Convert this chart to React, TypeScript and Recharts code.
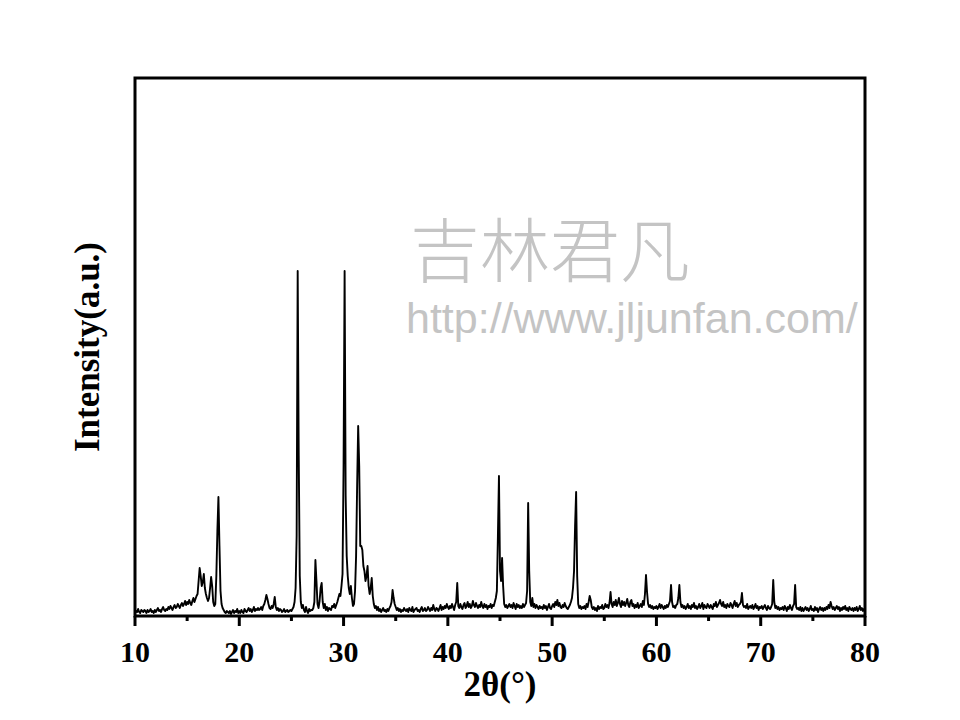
import React from "react";
import { LineChart, Line, XAxis, YAxis, ReferenceArea } from "recharts";

// XRD pattern, 2θ from 10° in steps of 0.1°, one row per degree.
// Intensity is in arbitrary units (read as height above the baseline).
const TWO_THETA_START = 10;
const TWO_THETA_STEP = 0.1;
const INTENSITY_ROWS: number[][] = [
  [3, 5, 4, 7, 4, 3, 6, 5, 4, 6], // 10
  [5, 3, 6, 4, 5, 7, 4, 5, 3, 6],
  [4, 6, 8, 5, 6, 4, 7, 9, 6, 5],
  [7, 6, 9, 7, 10, 8, 6, 9, 11, 8],
  [9, 12, 10, 8, 11, 13, 10, 12, 15, 11],
  [14, 12, 16, 13, 11, 15, 18, 14, 17, 20], // 15
  [22, 35, 48, 40, 30, 34, 42, 28, 22, 18],
  [15, 18, 28, 39, 30, 14, 10, 12, 40, 85],
  [119, 70, 25, 12, 8, 6, 4, 3, 5, 4],
  [3, 5, 2, 4, 6, 3, 5, 4, 7, 3],
  [5, 3, 6, 4, 3, 7, 5, 4, 6, 8], // 20
  [5, 7, 4, 6, 9, 5, 7, 6, 8, 6],
  [7, 9, 6, 10, 12, 16, 21, 17, 12, 8],
  [7, 10, 8, 12, 19, 9, 6, 8, 5, 7],
  [6, 4, 5, 7, 4, 5, 6, 4, 5, 6],
  [5, 7, 9, 14, 28, 80, 345, 160, 40, 14], // 25
  [8, 11, 6, 4, 9, 5, 3, 7, 5, 6],
  [6, 8, 14, 56, 35, 12, 8, 15, 28, 33],
  [14, 8, 12, 6, 9, 5, 8, 7, 6, 10],
  [9, 12, 8, 11, 14, 18, 22, 20, 30, 42],
  [150, 345, 120, 60, 40, 28, 22, 30, 18, 10], // 30
  [12, 25, 60, 130, 190, 150, 70, 70, 66, 50],
  [45, 35, 40, 50, 30, 22, 28, 38, 20, 12],
  [8, 10, 6, 9, 5, 7, 4, 6, 8, 5],
  [6, 4, 7, 5, 8, 10, 14, 26, 18, 12],
  [9, 6, 8, 5, 7, 4, 6, 5, 8, 6], // 35
  [5, 7, 4, 8, 6, 5, 9, 4, 6, 7],
  [8, 5, 6, 4, 7, 9, 5, 6, 8, 5],
  [6, 9, 7, 5, 8, 6, 11, 7, 5, 8],
  [7, 5, 8, 11, 6, 9, 7, 10, 8, 12],
  [9, 7, 10, 8, 12, 9, 6, 11, 14, 33], // 40
  [10, 8, 12, 9, 7, 11, 13, 8, 10, 14],
  [9, 12, 8, 10, 15, 11, 9, 13, 10, 8],
  [11, 9, 14, 10, 8, 12, 9, 11, 7, 10],
  [9, 12, 8, 11, 10, 14, 18, 25, 80, 140],
  [45, 35, 58, 30, 12, 9, 11, 8, 10, 12], // 45
  [9, 11, 8, 13, 10, 7, 12, 9, 11, 8],
  [10, 8, 12, 9, 11, 13, 25, 113, 45, 14],
  [10, 18, 9, 12, 8, 11, 9, 7, 10, 8],
  [9, 7, 11, 8, 10, 6, 9, 12, 8, 7],
  [10, 12, 9, 14, 11, 16, 10, 13, 9, 8], // 50
  [11, 9, 13, 10, 8, 7, 9, 11, 14, 18],
  [28, 45, 90, 124, 40, 12, 8, 10, 7, 9],
  [8, 10, 7, 12, 9, 14, 20, 16, 9, 7],
  [9, 6, 8, 5, 10, 7, 9, 8, 11, 7],
  [8, 12, 9, 11, 8, 13, 24, 12, 9, 14], // 55
  [11, 16, 10, 13, 18, 12, 9, 15, 11, 14],
  [10, 13, 17, 11, 9, 14, 16, 10, 12, 8],
  [11, 9, 13, 8, 10, 12, 9, 15, 11, 22],
  [41, 24, 12, 9, 11, 8, 10, 7, 9, 8],
  [10, 7, 9, 12, 8, 11, 9, 7, 10, 8], // 60
  [11, 9, 12, 15, 31, 14, 9, 10, 8, 11],
  [12, 18, 31, 14, 9, 11, 8, 10, 7, 9],
  [12, 8, 10, 7, 11, 9, 13, 8, 10, 7],
  [9, 12, 8, 10, 13, 7, 11, 9, 8, 12],
  [10, 8, 11, 9, 7, 12, 10, 14, 9, 11], // 65
  [13, 16, 12, 10, 14, 9, 11, 8, 12, 10],
  [9, 13, 11, 8, 12, 15, 10, 13, 9, 11],
  [12, 14, 23, 11, 9, 10, 8, 12, 7, 9],
  [10, 8, 11, 7, 9, 12, 8, 10, 6, 9],
  [8, 10, 7, 9, 11, 8, 6, 10, 8, 7], // 70
  [9, 12, 36, 14, 8, 10, 7, 9, 6, 8],
  [7, 9, 6, 10, 8, 5, 9, 7, 11, 8],
  [6, 10, 12, 31, 9, 7, 8, 6, 9, 5],
  [8, 5, 7, 9, 6, 8, 5, 7, 10, 6],
  [7, 5, 9, 6, 8, 4, 7, 9, 6, 8], // 75
  [5, 8, 6, 9, 7, 11, 8, 14, 10, 7],
  [9, 6, 8, 10, 7, 9, 5, 8, 6, 9],
  [7, 10, 6, 8, 5, 9, 7, 6, 8, 5],
  [8, 6, 9, 5, 7, 10, 6, 8, 5, 7],
  [6], // 80
];

const X_TICKS = [10, 15, 20, 25, 30, 35, 40, 45, 50, 55, 60, 65, 70, 75, 80];
const X_DOMAIN: [number, number] = [10, 80];
const Y_DOMAIN: [number, number] = [0, 538];

const data = INTENSITY_ROWS.flat().map((v, i) => ({
  twoTheta: +(TWO_THETA_START + i * TWO_THETA_STEP).toFixed(1),
  intensity: v,
}));

const serif = "'Liberation Serif', 'Times New Roman', serif";

function XTick(props: any) {
  const { x, y, payload } = props;
  const major = payload.value % 10 === 0;
  return (
    <g>
      <line x1={x} y1={y} x2={x} y2={y + (major ? 10 : 5)} stroke="#000" strokeWidth={3} />
      {major && (
        <text x={x} y={y + 46} textAnchor="middle" fontFamily={serif} fontWeight="bold" fontSize={30} fill="#000">
          {payload.value}
        </text>
      )}
    </g>
  );
}

export default function App() {
  return (
    <div style={{ position: "absolute", left: 0, top: 0, width: 960, height: 720, background: "#fff" }}>
      <LineChart width={960} height={720} data={data} margin={{ top: 78, right: 95, bottom: 44, left: 135 }}>
        <XAxis
          dataKey="twoTheta"
          type="number"
          domain={X_DOMAIN}
          ticks={X_TICKS}
          allowDataOverflow
          axisLine={false}
          tickLine={false}
          tickSize={0}
          tickMargin={0}
          height={60}
          interval={0}
          tick={<XTick />}
        />
        <YAxis hide type="number" domain={Y_DOMAIN} allowDataOverflow />
        <Line
          type="linear"
          dataKey="intensity"
          stroke="#000"
          strokeWidth={1.9}
          strokeLinejoin="round"
          dot={false}
          isAnimationActive={false}
        />
        <ReferenceArea x1={10} x2={80} y1={0} y2={538} fill="none" stroke="#000" strokeWidth={3} ifOverflow="visible" />
      </LineChart>
      <svg width={960} height={720} style={{ position: "absolute", left: 0, top: 0, pointerEvents: "none" }}>
        <text x={500} y={696} textAnchor="middle" fontFamily={serif} fontWeight="bold" fontSize={35}>
          2θ(°)
        </text>
        <text
          x={87}
          y={347}
          textAnchor="middle"
          dominantBaseline="central"
          transform="rotate(-90 87 347)"
          fontFamily={serif}
          fontWeight="bold"
          fontSize={35}
        >
          Intensity(a.u.)
        </text>
        <text x={410} y={277} fontFamily="'Noto Sans CJK SC', sans-serif" fontWeight={300} fontSize={70} fill="#c4c4c4">
          吉林君凡
        </text>
        <text x={406} y={333} fontFamily="'Liberation Sans', Arial, sans-serif" fontSize={43} fill="#c4c4c4">
          http://www.jljunfan.com/
        </text>
      </svg>
    </div>
  );
}
